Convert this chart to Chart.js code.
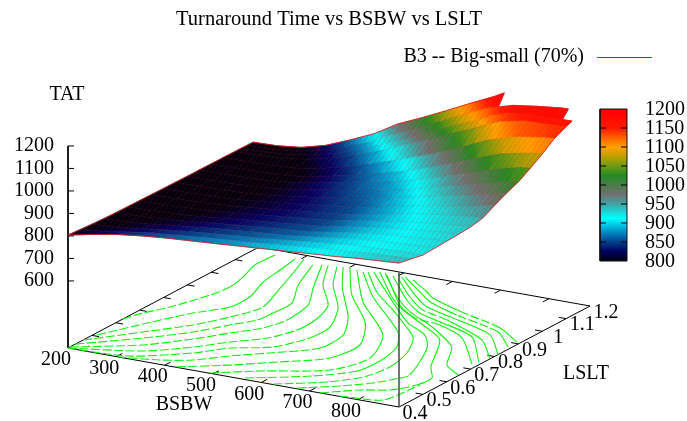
<!DOCTYPE html>
<html>
<head>
<meta charset="utf-8">
<title>Turnaround Time vs BSBW vs LSLT</title>
<script src="https://cdn.jsdelivr.net/npm/chart.js@4"></script>
<style>
  html, body { margin: 0; padding: 0; background: #fff; }
  canvas { display: block; }
</style>
</head>
<body>
<canvas id="chart" width="687" height="421"></canvas>
<script>
// ─── data ──────────────────────────────────────────────────────
const bsbwValues = [200, 250, 300, 350, 400, 450, 500, 550, 600, 650, 700, 720, 750, 800, 850, 865, 885]
const lsltValues = [0.40, 0.45, 0.50, 0.55, 0.60, 0.65, 0.70, 0.75, 0.80, 0.85, 0.90, 0.95, 1.00, 1.05, 1.10, 1.125, 1.15, 1.175]

// one row per LSLT value, one column per BSBW value; null = above the z range, not plotted
const tatRows = [
  [804, 826, 845, 858, 868, 875, 882, 890, 897, 905, 913, 916, 920, 930, 937, 939, 942],
  [800, 812, 828, 842, 852, 862, 870, 878, 888, 898, 907, 911, 915, 924, 930, 931, 932],
  [796, 802, 815, 828, 840, 850, 859, 868, 878, 890, 901, 905, 910, 916, 920, 921, 921],
  [793, 797, 806, 819, 831, 841, 850, 858, 868, 882, 896, 901, 907, 914, 921, 923, 924],
  [791, 794, 800, 810, 822, 832, 842, 852, 860, 876, 892, 898, 905, 914, 923, 925, 927],
  [790, 792, 797, 804, 815, 826, 836, 846, 855, 873, 890, 896, 904, 916, 926, 928, 930],
  [789, 790, 794, 800, 811, 822, 832, 842, 853, 872, 890, 897, 906, 919, 930, 932, 934],
  [788, 789, 792, 797, 808, 818, 830, 842, 853, 873, 893, 902, 913, 928, 941, 943, 945],
  [787, 788, 791, 795, 806, 817, 830, 844, 856, 878, 900, 908, 920, 938, 958, 965, 973],
  [786, 787, 790, 794, 805, 818, 833, 849, 864, 887, 912, 922, 936, 958, 982, 992, 1000],
  [785, 786, 789, 793, 805, 820, 838, 856, 873, 897, 925, 938, 954, 980, 1006, 1015, 1022],
  [785, 786, 788, 793, 806, 825, 846, 866, 885, 915, 945, 960, 980, 1015, 1042, 1050, 1055],
  [784, 785, 787, 791, 803, 825, 850, 875, 903, 940, 978, 995, 1020, 1058, 1080, 1086, 1090],
  [784, 785, 788, 795, 812, 838, 868, 903, 940, 980, 1025, 1045, 1072, 1105, 1122, 1127, 1130],
  [783, 785, 790, 805, 830, 860, 900, 945, 990, 1035, 1080, 1100, 1125, 1148, 1150, 1153, 1155],
  [783, 785, 792, 810, 838, 872, 920, 965, 1012, 1060, 1105, 1128, 1150, 1162, 1164, 1165, 1166],
  [782, 785, 794, 816, 850, 888, 945, 990, 1040, 1092, 1140, 1151, 1170, 1185, 1197, 1198, null],
  [782, 785, 797, 825, 868, 915, 978, 1025, 1075, 1127, 1177, 1200, null, null, null, null, null],
]

// contour lines on the base plane, [BSBW, LSLT] pairs
const contours = [
  [[200,.630],[214,.687],[238,.751],[265,.864],[272,.932],[263,1.005],[246,1.089],[248,1.170]],
  [[207,.508],[246,.621],[291,.739],[331,.814],[332,.894],[309,.997],[300,1.086],[291,1.167]],
  [[200,.463],[269,.574],[326,.668],[360,.755],[382,.849],[353,.979],[329,1.082],[305,1.176]],
  [[200,.431],[287,.538],[347,.627],[383,.707],[411,.766],[415,.824],[415,.903],[372,1.016],[336,1.150]],
  [[200,.408],[307,.497],[367,.585],[407,.660],[443,.724],[457,.797],[446,.908],[404,1.014],[350,1.160]],
  [[200,.400],[325,.461],[391,.538],[433,.607],[479,.669],[502,.748],[499,.842],[477,.929],[410,1.043],[360,1.166]],
  [[200,.400],[315,.415],[408,.502],[451,.571],[514,.622],[545,.715],[544,.801],[501,.922],[426,1.053],[379,1.164]],
  [[302,.400],[378,.426],[429,.461],[474,.524],[527,.584],[590,.666],[588,.767],[543,.879],[449,1.045],[389,1.170]],
  [[424,.403],[501,.470],[565,.538],[635,.617],[643,.726],[587,.862],[484,1.014],[402,1.172]],
  [[493,.402],[569,.470],[670,.546],[697,.660],[649,.810],[522,.984],[419,1.167]],
  [[562,.409],[661,.493],[715,.569],[721,.652],[706,.753],[664,.843],[523,1.024],[434,1.162]],
  [[623,.403],[700,.472],[742,.540],[754,.627],[739,.728],[705,.824],[654,.892],[592,.968],[514,1.058],[442,1.167]],
  [[672,.405],[732,.462],[774,.515],[797,.562],[808,.601],[756,.779],[714,.854],[649,.912],[521,1.078],[451,1.173]],
  [[722,.400],[775,.460],[821,.491],[848,.549],[851,.607],[817,.671],[752,.840],[682,.911],[607,.979],[552,1.044],[460,1.180]],
  [[761,.403],[840,.425],[853,.553]],
  [[883,.652],[836,.700],[791,.811],[702,.909],[624,.975],[560,1.050],[471,1.179]],
  [[872,.732],[781,.875],[708,.929],[649,.944],[588,1.005],[480,1.169]],
  [[880,.745],[793,.892],[700,.947],[642,.979],[584,1.042],[492,1.170]],
  [[882,.786],[817,.885],[705,.966],[638,1.000],[580,1.063],[506,1.163]],
  [[885,.815],[815,.923],[708,.984],[636,1.022],[582,1.080],[509,1.173]],
  [[878,.871],[819,.949],[705,1.006],[626,1.055],[572,1.113],[514,1.177]],
  [[877,.910],[810,.975],[704,1.029],[618,1.082],[592,1.111],[535,1.167]],
]

const bsbwTicks = [200, 300, 400, 500, 600, 700, 800]
const lsltTicks = [0.4, 0.5, 0.6, 0.7, 0.8, 0.9, 1, 1.1, 1.2]
const tatTicks  = [600, 700, 800, 900, 1000, 1100, 1200]
const cbTicks   = [800, 850, 900, 950, 1000, 1050, 1100, 1150, 1200]

// palette of the colour box
const paletteValues = [800, 825, 850, 875, 912, 950, 975, 1000, 1025, 1050, 1075, 1100, 1125, 1150, 1200]
const paletteColors = ['#000010', '#000060', '#00408a', '#0088c0', '#00ffff', '#40a4a4', '#707070',
                       '#4a7d4a', '#228b22', '#6e9a14', '#c0a000', '#ffa000', '#ff6000', '#ff1800', '#ff0000']

// ─── projection of the 3D box on the page ──────────────────────
const BSBW_MIN = 200, BSBW_MAX = 885, LSLT_MIN = 0.4, LSLT_MAX = 1.2, TAT_BASE = 302
const view = { x0: 68, y0: 348, ux: 331, uy: 59, vx: 191, vy: -101, tz: 0.225 }

function project(bsbw, lslt, tat) {
  const u = (bsbw - BSBW_MIN) / (BSBW_MAX - BSBW_MIN)
  const v = (lslt - LSLT_MIN) / (LSLT_MAX - LSLT_MIN)
  return {
    x: view.x0 + u * view.ux + v * view.vx,
    y: view.y0 + u * view.uy + v * view.vy - (tat - TAT_BASE) * view.tz,
  }
}

const hexRgb = h => [1, 3, 5].map(i => parseInt(h.substr(i, 2), 16))

function tatColor(t) {
  t = Math.min(1200, Math.max(800, t))
  let i = 0
  while (i < paletteValues.length - 2 && t > paletteValues[i + 1]) i++
  const f = (t - paletteValues[i]) / (paletteValues[i + 1] - paletteValues[i])
  const a = hexRgb(paletteColors[i]), b = hexRgb(paletteColors[i + 1])
  return `rgb(${a.map((c, k) => Math.round(c + (b[k] - c) * f)).join(',')})`
}

// gradients and the hatch are only paint, a scratch canvas is enough to make them
const scratch = document.createElement('canvas').getContext('2d')

function cellGradient(a, b, tatA, tatB) {
  const g = scratch.createLinearGradient(a.x, a.y, b.x, b.y)
  for (let k = 0; k <= 4; k++) g.addColorStop(k / 4, tatColor(tatA + (tatB - tatA) * k / 4))
  return g
}

function hatchPattern() {
  const c = document.createElement('canvas')
  c.width = 5; c.height = 7
  const p = c.getContext('2d')
  p.strokeStyle = 'rgba(255,0,0,0.22)'
  p.lineWidth = 0.8
  p.beginPath()
  p.moveTo(0, 7); p.lineTo(5, 0)
  p.moveTo(-5, 7); p.lineTo(0, 0)
  p.moveTo(5, 7); p.lineTo(10, 0)
  p.stroke()
  return scratch.createPattern(c, 'repeat')
}

const shape = (data, bg, line, width) => ({
  data, showLine: true, pointRadius: 0, fill: 'shape', backgroundColor: bg,
  borderColor: line, borderWidth: width, tension: 0, clip: false,
})
const stroke = (data, color, width, extra) => ({
  data, showLine: true, pointRadius: 0, fill: false, borderColor: color, borderWidth: width, tension: 0, clip: false, ...extra,
})

// ─── surface: far cells first on screen, so they go last in the list ───
function surfaceCells() {
  const cells = []
  for (let r = 0; r < lsltValues.length - 1; r++) {
    for (let c = bsbwValues.length - 2; c >= 0; c--) {
      const t = [tatRows[r][c], tatRows[r][c + 1], tatRows[r + 1][c + 1], tatRows[r + 1][c]]
      if (t.includes(null)) continue
      const p = [project(bsbwValues[c], lsltValues[r], t[0]), project(bsbwValues[c + 1], lsltValues[r], t[1]),
                 project(bsbwValues[c + 1], lsltValues[r + 1], t[2]), project(bsbwValues[c], lsltValues[r + 1], t[3])]
      const left  = { x: (p[0].x + p[3].x) / 2, y: (p[0].y + p[3].y) / 2 }
      const right = { x: (p[1].x + p[2].x) / 2, y: (p[1].y + p[2].y) / 2 }
      const g = cellGradient(left, right, (t[0] + t[3]) / 2, (t[1] + t[2]) / 2)
      cells.push(shape([p[0], p[1], p[2], p[3], p[0]], g, g, 0.7))
    }
  }
  return cells
}

function surfaceOutline() {
  const out = []
  let from = 0
  for (let r = lsltValues.length - 1; r >= 0; r--) {
    let last = tatRows[r].length - 1
    while (tatRows[r][last] === null) last--
    for (let c = from; c <= last; c++) out.push(project(bsbwValues[c], lsltValues[r], tatRows[r][c]))
    from = last
  }
  for (let c = bsbwValues.length - 2; c >= 0; c--) out.push(project(bsbwValues[c], lsltValues[0], tatRows[0][c]))
  for (let r = 1; r < lsltValues.length; r++) out.push(project(bsbwValues[0], lsltValues[r], tatRows[r][0]))
  return out
}

function rowLines() {
  return lsltValues.map((l, r) => {
    const pts = []
    bsbwValues.forEach((b, c) => { if (tatRows[r][c] !== null) pts.push(project(b, l, tatRows[r][c])) })
    return stroke(pts, 'rgba(200,0,0,0.16)', 0.7)
  })
}

// ─── box, ticks ─────────────────────────────────────────────────
const GAP = { x: NaN, y: NaN }

function axisTicks() {
  const d = []
  const seg = (a, b) => d.push(a, b, GAP)
  bsbwTicks.slice(1).forEach(b => {
    seg(project(b, LSLT_MIN, TAT_BASE), project(b, LSLT_MIN + 0.025, TAT_BASE))
    seg(project(b, LSLT_MAX, TAT_BASE), project(b, LSLT_MAX - 0.025, TAT_BASE))
  })
  lsltTicks.slice(1, -1).forEach(l => {
    seg(project(BSBW_MIN, l, TAT_BASE), project(BSBW_MIN + 15, l, TAT_BASE))
    seg(project(BSBW_MAX, l, TAT_BASE), project(BSBW_MAX - 15, l, TAT_BASE))
  })
  tatTicks.forEach(t => {
    const p = project(BSBW_MIN, LSLT_MIN, t)
    seg(p, { x: p.x + 6, y: p.y })
  })
  return d
}

function baseBox() {
  return [
    project(BSBW_MIN, LSLT_MIN, 1200), project(BSBW_MIN, LSLT_MIN, TAT_BASE),
    project(BSBW_MAX, LSLT_MIN, TAT_BASE), project(BSBW_MAX, LSLT_MAX, TAT_BASE),
    project(BSBW_MIN, LSLT_MAX, TAT_BASE), project(BSBW_MIN, LSLT_MIN, TAT_BASE),
  ]
}

// gnuplot breaks up the shallow contour segments, the steep ones stay solid
const contourDash = ctx => {
  const dx = Math.abs(ctx.p1.parsed.x - ctx.p0.parsed.x), dy = Math.abs(ctx.p1.parsed.y - ctx.p0.parsed.y)
  return dy / dx < 0.42 ? [9, 2.5] : undefined
}

// ─── colour box, y comes from its own range ─────────────────────
const CB = { x0: 600, x1: 627, y800: 261, y1200: 109 }
const cbY = v => CB.y800 + (v - 800) * (CB.y1200 - CB.y800) / 400

function colourBox() {
  const g = scratch.createLinearGradient(0, cbY(800), 0, cbY(1200))
  paletteValues.forEach((v, i) => g.addColorStop((v - 800) / 400, paletteColors[i]))
  const rect = [{ x: CB.x0, y: cbY(800) }, { x: CB.x1, y: cbY(800) }, { x: CB.x1, y: cbY(1200) }, { x: CB.x0, y: cbY(1200) }, { x: CB.x0, y: cbY(800) }]
  const ticks = []
  cbTicks.slice(1, -1).forEach(v => {
    ticks.push({ x: CB.x0, y: cbY(v) }, { x: CB.x0 + 6, y: cbY(v) }, GAP, { x: CB.x1 - 6, y: cbY(v) }, { x: CB.x1, y: cbY(v) }, GAP)
  })
  return [stroke(ticks, '#000', 1), shape(rect, g, '#111', 1)]
}

// ─── texts ──────────────────────────────────────────────────────
const LABEL_FONT = '20px "Liberation Serif", serif'
function pageLabels() {
  const out = [
    { text: 'B3 -- Big-small (70%)', x: 584, y: 57, align: 'right' },
    { text: 'TAT', x: 67, y: 95, align: 'center' },
    { text: 'BSBW', x: 184, y: 405, align: 'center' },
    { text: 'LSLT', x: 586, y: 374, align: 'center' },
  ]
  bsbwTicks.forEach(b => { const p = project(b, LSLT_MIN, TAT_BASE); out.push({ text: String(b), x: p.x - 12, y: p.y + 12, align: 'center' }) })
  lsltTicks.forEach(l => { const p = project(BSBW_MAX, l, TAT_BASE); out.push({ text: String(l), x: p.x + 16, y: p.y + 6.5, align: 'center' }) })
  tatTicks.forEach(t => { const p = project(BSBW_MIN, LSLT_MIN, t); out.push({ text: String(t), x: 54, y: p.y, align: 'right' }) })
  cbTicks.forEach(v => out.push({ text: String(v), x: 645, y: cbY(v) + 1, align: 'left' }))
  return out
}

const textPlugin = {
  id: 'pageText',
  afterDatasetsDraw(chart) {
    const { ctx, scales: { x, y } } = chart
    ctx.save()
    ctx.font = LABEL_FONT
    ctx.fillStyle = '#000'
    ctx.textBaseline = 'middle'
    pageLabels().forEach(l => {
      ctx.textAlign = l.align
      ctx.fillText(l.text, x.getPixelForValue(l.x), y.getPixelForValue(l.y))
    })
    ctx.restore()
  },
}

// ─── chart ──────────────────────────────────────────────────────
const datasets = [
  stroke([{ x: 597, y: 57.5 }, { x: 652, y: 57.5 }], '#f00000', 1),
  ...colourBox(),
  shape(surfaceOutline(), hatchPattern(), 'rgba(225,30,30,0.9)', 0.9),
  ...rowLines(),
  ...surfaceCells(),
  stroke([project(BSBW_MAX, LSLT_MIN, TAT_BASE), project(BSBW_MAX, LSLT_MIN, 900)], '#444', 1.5),
  ...contours.map(line => stroke(line.map(([b, l]) => project(b, l, TAT_BASE)), '#10f010', 1.1, { tension: 0.25, segment: { borderDash: contourDash } })),
  stroke(axisTicks(), '#000', 1),
  stroke(baseBox(), '#000', 1),
]

new Chart(document.getElementById('chart'), {
  type: 'scatter',
  data: { datasets },
  plugins: [textPlugin],
  options: {
    responsive: false,
    animation: false,
    layout: { padding: { right: 29 } },
    events: [],
    plugins: {
      legend: { display: false },
      tooltip: { enabled: false },
      filler: { drawTime: 'beforeDatasetDraw', propagate: false },
      title: {
        display: true,
        text: 'Turnaround Time vs BSBW vs LSLT',
        color: '#000',
        font: { family: '"Liberation Serif", serif', size: 20.5, weight: 'normal', lineHeight: 1 },
        padding: { top: 9.5, bottom: 0 },
      },
    },
    scales: {
      x: { type: 'linear', display: false, min: 0, max: 658 },
      y: { type: 'linear', display: false, min: 30, max: 421, reverse: true },
    },
  },
})
</script>
</body>
</html>
